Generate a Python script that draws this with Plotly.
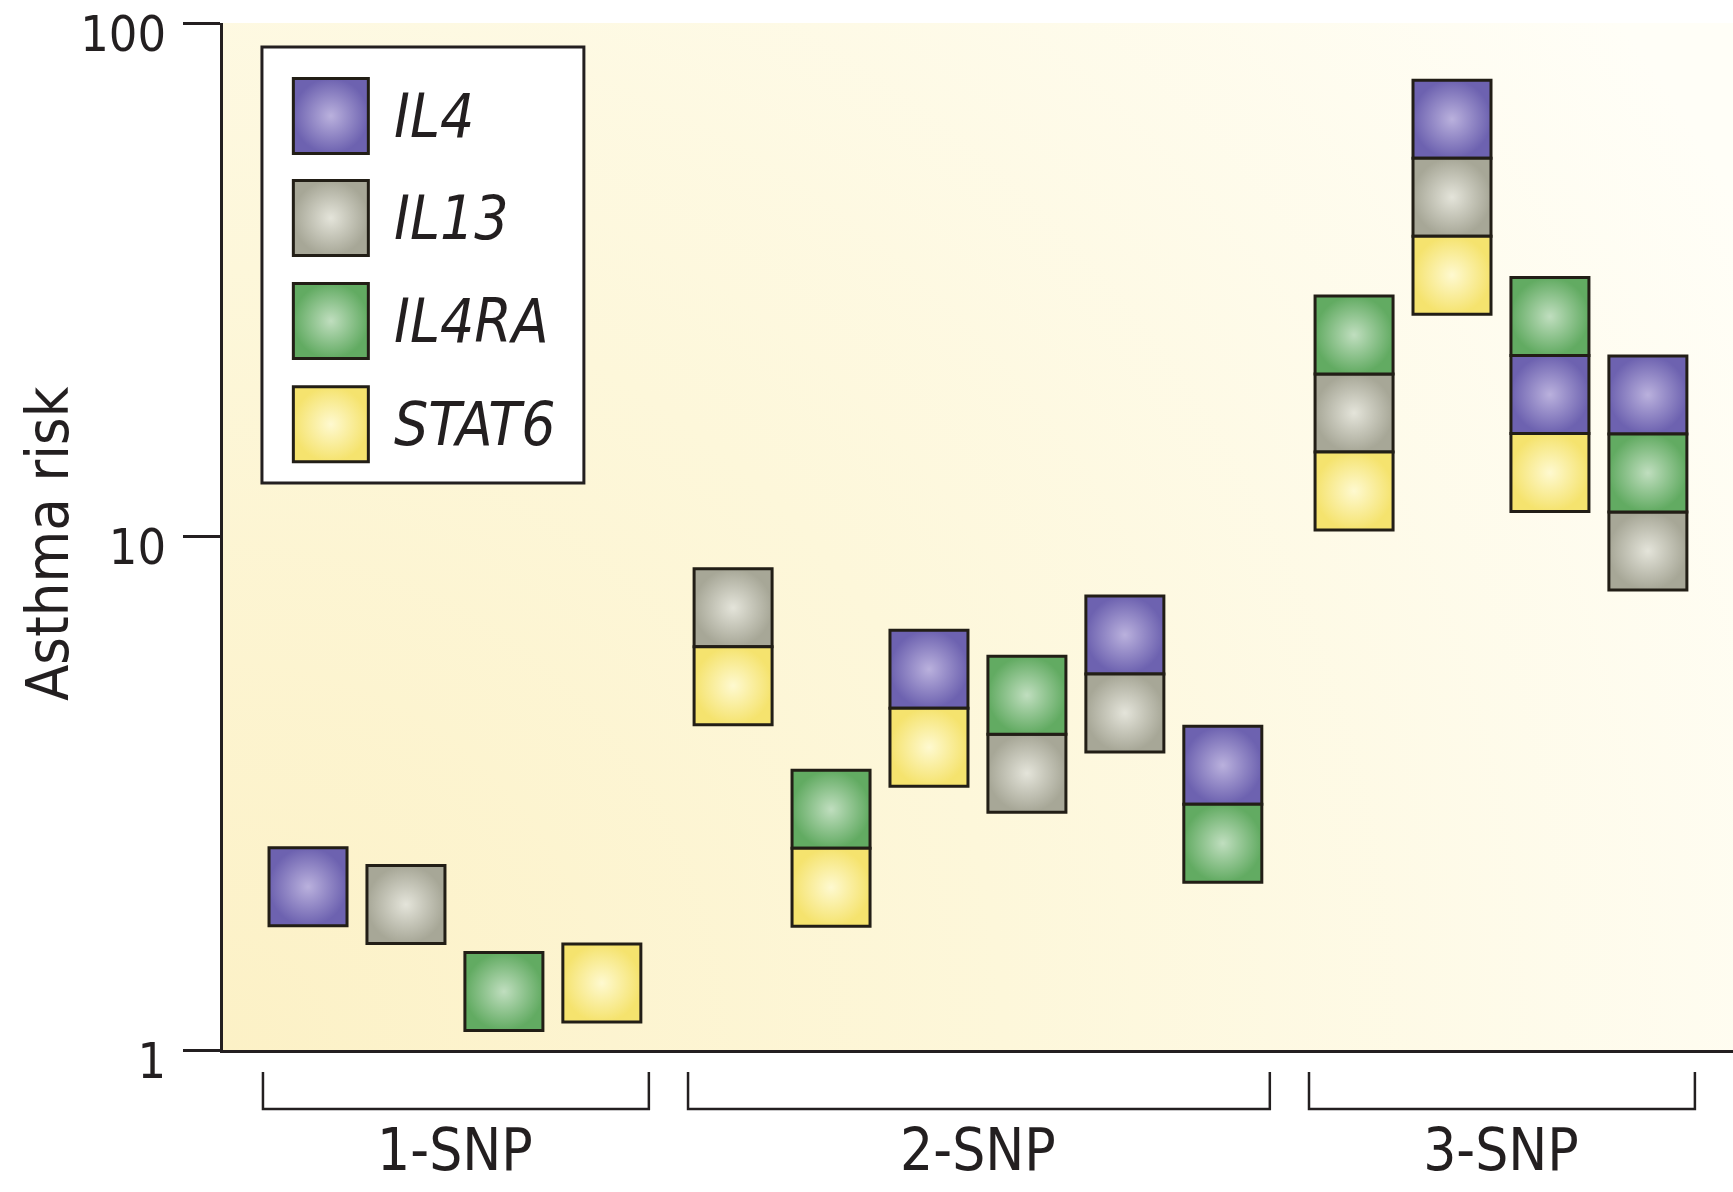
import base64
import plotly.graph_objects as go

# ---- data -------------------------------------------------------------
GENES = ["IL4", "IL13", "IL4RA", "STAT6"]
GROUP_LABELS = ["1-SNP", "2-SNP", "3-SNP"]

# risk-allele combinations, genes listed top to bottom within each stack
COMBOS_1SNP = [["IL4"], ["IL13"], ["IL4RA"], ["STAT6"]]
RISK_1SNP = [2.08, 1.92, 1.30, 1.35]

COMBOS_2SNP = [["IL13", "STAT6"], ["IL4RA", "STAT6"], ["IL4", "STAT6"],
               ["IL4RA", "IL13"], ["IL4", "IL13"], ["IL4", "IL4RA"]]
RISK_2SNP = [6.1, 2.47, 4.63, 4.12, 5.40, 3.01]

COMBOS_3SNP = [["IL4RA", "IL13", "STAT6"], ["IL4", "IL13", "STAT6"],
               ["IL4RA", "IL4", "STAT6"], ["IL4", "IL4RA", "IL13"]]
RISK_3SNP = [17.4, 45.8, 18.9, 13.3]

Y_TICKS = [1, 10, 100]
Y_TITLE = "Asthma risk"

# ---- style ------------------------------------------------------------
EDGE = {"IL4": "#6D62B0", "IL13": "#A7A797", "IL4RA": "#62AB62", "STAT6": "#F5E36E"}
GLOW = {"IL4": "#BAB1DD", "IL13": "#E4E4DA", "IL4RA": "#C0DEBF", "STAT6": "#FEF9D0"}
OUTLINE = "#221E16"
INK = "#231F20"
FONT = "Liberation Sans Narrow, DejaVu Sans Condensed, Arial Narrow, sans-serif"

W, H = 1733, 1192
L, R, T, B = 223, 0, 23, 142
BOX_PX = 78                      # side of one gene square, px
DECADE_PX = (H - T - B) / 2.0    # two decades on the y axis
BOX_LOG = BOX_PX / DECADE_PX     # square height in log10 units
GROUP_GAP = 0.34                 # extra spacing between SNP groups (x units)

# ---- layout of the stacks --------------------------------------------
groups = [(COMBOS_1SNP, RISK_1SNP), (COMBOS_2SNP, RISK_2SNP), (COMBOS_3SNP, RISK_3SNP)]
pts = {g: ([], []) for g in GENES}
spans = []
k = 0
for gi, (combos, risks) in enumerate(groups):
    xs = []
    for combo, risk in zip(combos, risks):
        x = k + GROUP_GAP * gi
        xs.append(x)
        n = len(combo)
        for j, gene in enumerate(combo):
            off = ((n - 1) / 2.0 - j) * BOX_LOG
            pts[gene][0].append(x)
            pts[gene][1].append(risk * 10 ** off)
        k += 1
    spans.append((xs[0], xs[-1]))
centers = [(a + b) / 2.0 for a, b in spans]

fig = go.Figure()

for gene in GENES:
    fig.add_trace(go.Scatter(
        x=pts[gene][0], y=pts[gene][1], mode="markers", name=gene,
        marker=dict(symbol="square", size=BOX_PX, color=EDGE[gene],
                    gradient=dict(type="radial", color=GLOW[gene]),
                    line=dict(color=OUTLINE, width=3)),
        cliponaxis=False, hoverinfo="skip", showlegend=False))

# ---- key box (own small subplot) -------------------------------------
KEY_X = 0.214
KEY_TEXT_X = 0.405
KEY_Y = [0.842, 0.608, 0.372, 0.135]
for gene, ky in zip(GENES, KEY_Y):
    fig.add_trace(go.Scatter(
        x=[KEY_X], y=[ky], xaxis="x2", yaxis="y2", mode="markers",
        marker=dict(symbol="square", size=75, color=EDGE[gene],
                    gradient=dict(type="radial", color=GLOW[gene]),
                    line=dict(color=OUTLINE, width=3)),
        hoverinfo="skip", showlegend=False))
    fig.add_annotation(x=KEY_TEXT_X, y=ky, xref="x2", yref="y2", text=gene,
                       showarrow=False, xanchor="left", yanchor="middle",
                       font=dict(family=FONT, size=60, color=INK, style="italic"))

fig.add_shape(type="rect", xref="paper", yref="paper",
              x0=0.0258, x1=0.239, y0=0.552, y1=0.9766,
              line=dict(color=INK, width=3), fillcolor="white", layer="below")

# ---- y axis title ----------------------------------------------------
fig.add_annotation(x=-0.1159, y=0.4937, xref="paper", yref="paper",
                   text=Y_TITLE, textangle=-90, showarrow=False,
                   xanchor="center", yanchor="middle",
                   font=dict(family=FONT, size=59, color=INK))

# ---- group brackets under the x axis ---------------------------------
for a, b in spans:
    x0, x1 = a - 0.46, b + 0.48
    fig.add_shape(type="path", xref="x", yref="paper",
                  path=f"M {x0},-0.0214 L {x0},-0.0575 L {x1},-0.0575 L {x1},-0.0214",
                  line=dict(color=INK, width=2.5))

# ---- warm gradient behind the plot area ------------------------------
pw, ph = W - L - R, H - T - B
svg = (
    f'<svg xmlns="http://www.w3.org/2000/svg" width="{pw}" height="{ph}" '
    f'viewBox="0 0 {pw} {ph}" preserveAspectRatio="none">'
    f'<defs><radialGradient id="g" cx="0" cy="{ph}" r="{int(pw * 1.15)}" '
    f'gradientUnits="userSpaceOnUse">'
    f'<stop offset="0" stop-color="#FCF1C6"/>'
    f'<stop offset="0.45" stop-color="#FDF7DA"/>'
    f'<stop offset="1" stop-color="#FFFEF7"/>'
    f'</radialGradient></defs>'
    f'<rect width="{pw}" height="{ph}" fill="url(#g)"/></svg>'
)
fig.add_layout_image(
    source="data:image/svg+xml;base64," + base64.b64encode(svg.encode()).decode(),
    xref="paper", yref="paper", x=0, y=1, sizex=1, sizey=1,
    xanchor="left", yanchor="top", sizing="stretch", layer="below")

fig.update_layout(
    width=W, height=H, autosize=False,
    margin=dict(l=L, r=R, t=T, b=B, pad=0, autoexpand=False),
    paper_bgcolor="white", plot_bgcolor="rgba(0,0,0,0)",
    showlegend=False, hovermode=False,
    xaxis=dict(range=[-0.868, 14.549], domain=[0, 1], showgrid=False,
               zeroline=False, showline=True, linecolor=INK, linewidth=3,
               ticks="", tickvals=centers, ticktext=GROUP_LABELS,
               tickfont=dict(family=FONT, size=58, color=INK),
               ticklabelstandoff=47, fixedrange=True),
    yaxis=dict(type="log", range=[0, 2], domain=[0, 1], showgrid=False,
               zeroline=False, showline=True, linecolor=INK, linewidth=3,
               ticks="outside", ticklen=37, tickwidth=2.5, tickcolor=INK,
               tickvals=Y_TICKS, ticktext=[str(v) for v in Y_TICKS],
               tickfont=dict(family=FONT, size=50, color=INK),
               ticklabelstandoff=7, ticklabelshift=10,
               ticklabeloverflow="allow", fixedrange=True),
    xaxis2=dict(domain=[0.0258, 0.239], range=[0, 1], anchor="y2",
                visible=False, fixedrange=True),
    yaxis2=dict(domain=[0.552, 0.9766], range=[0, 1], anchor="x2",
                visible=False, fixedrange=True),
)

fig.write_html("out.html")
